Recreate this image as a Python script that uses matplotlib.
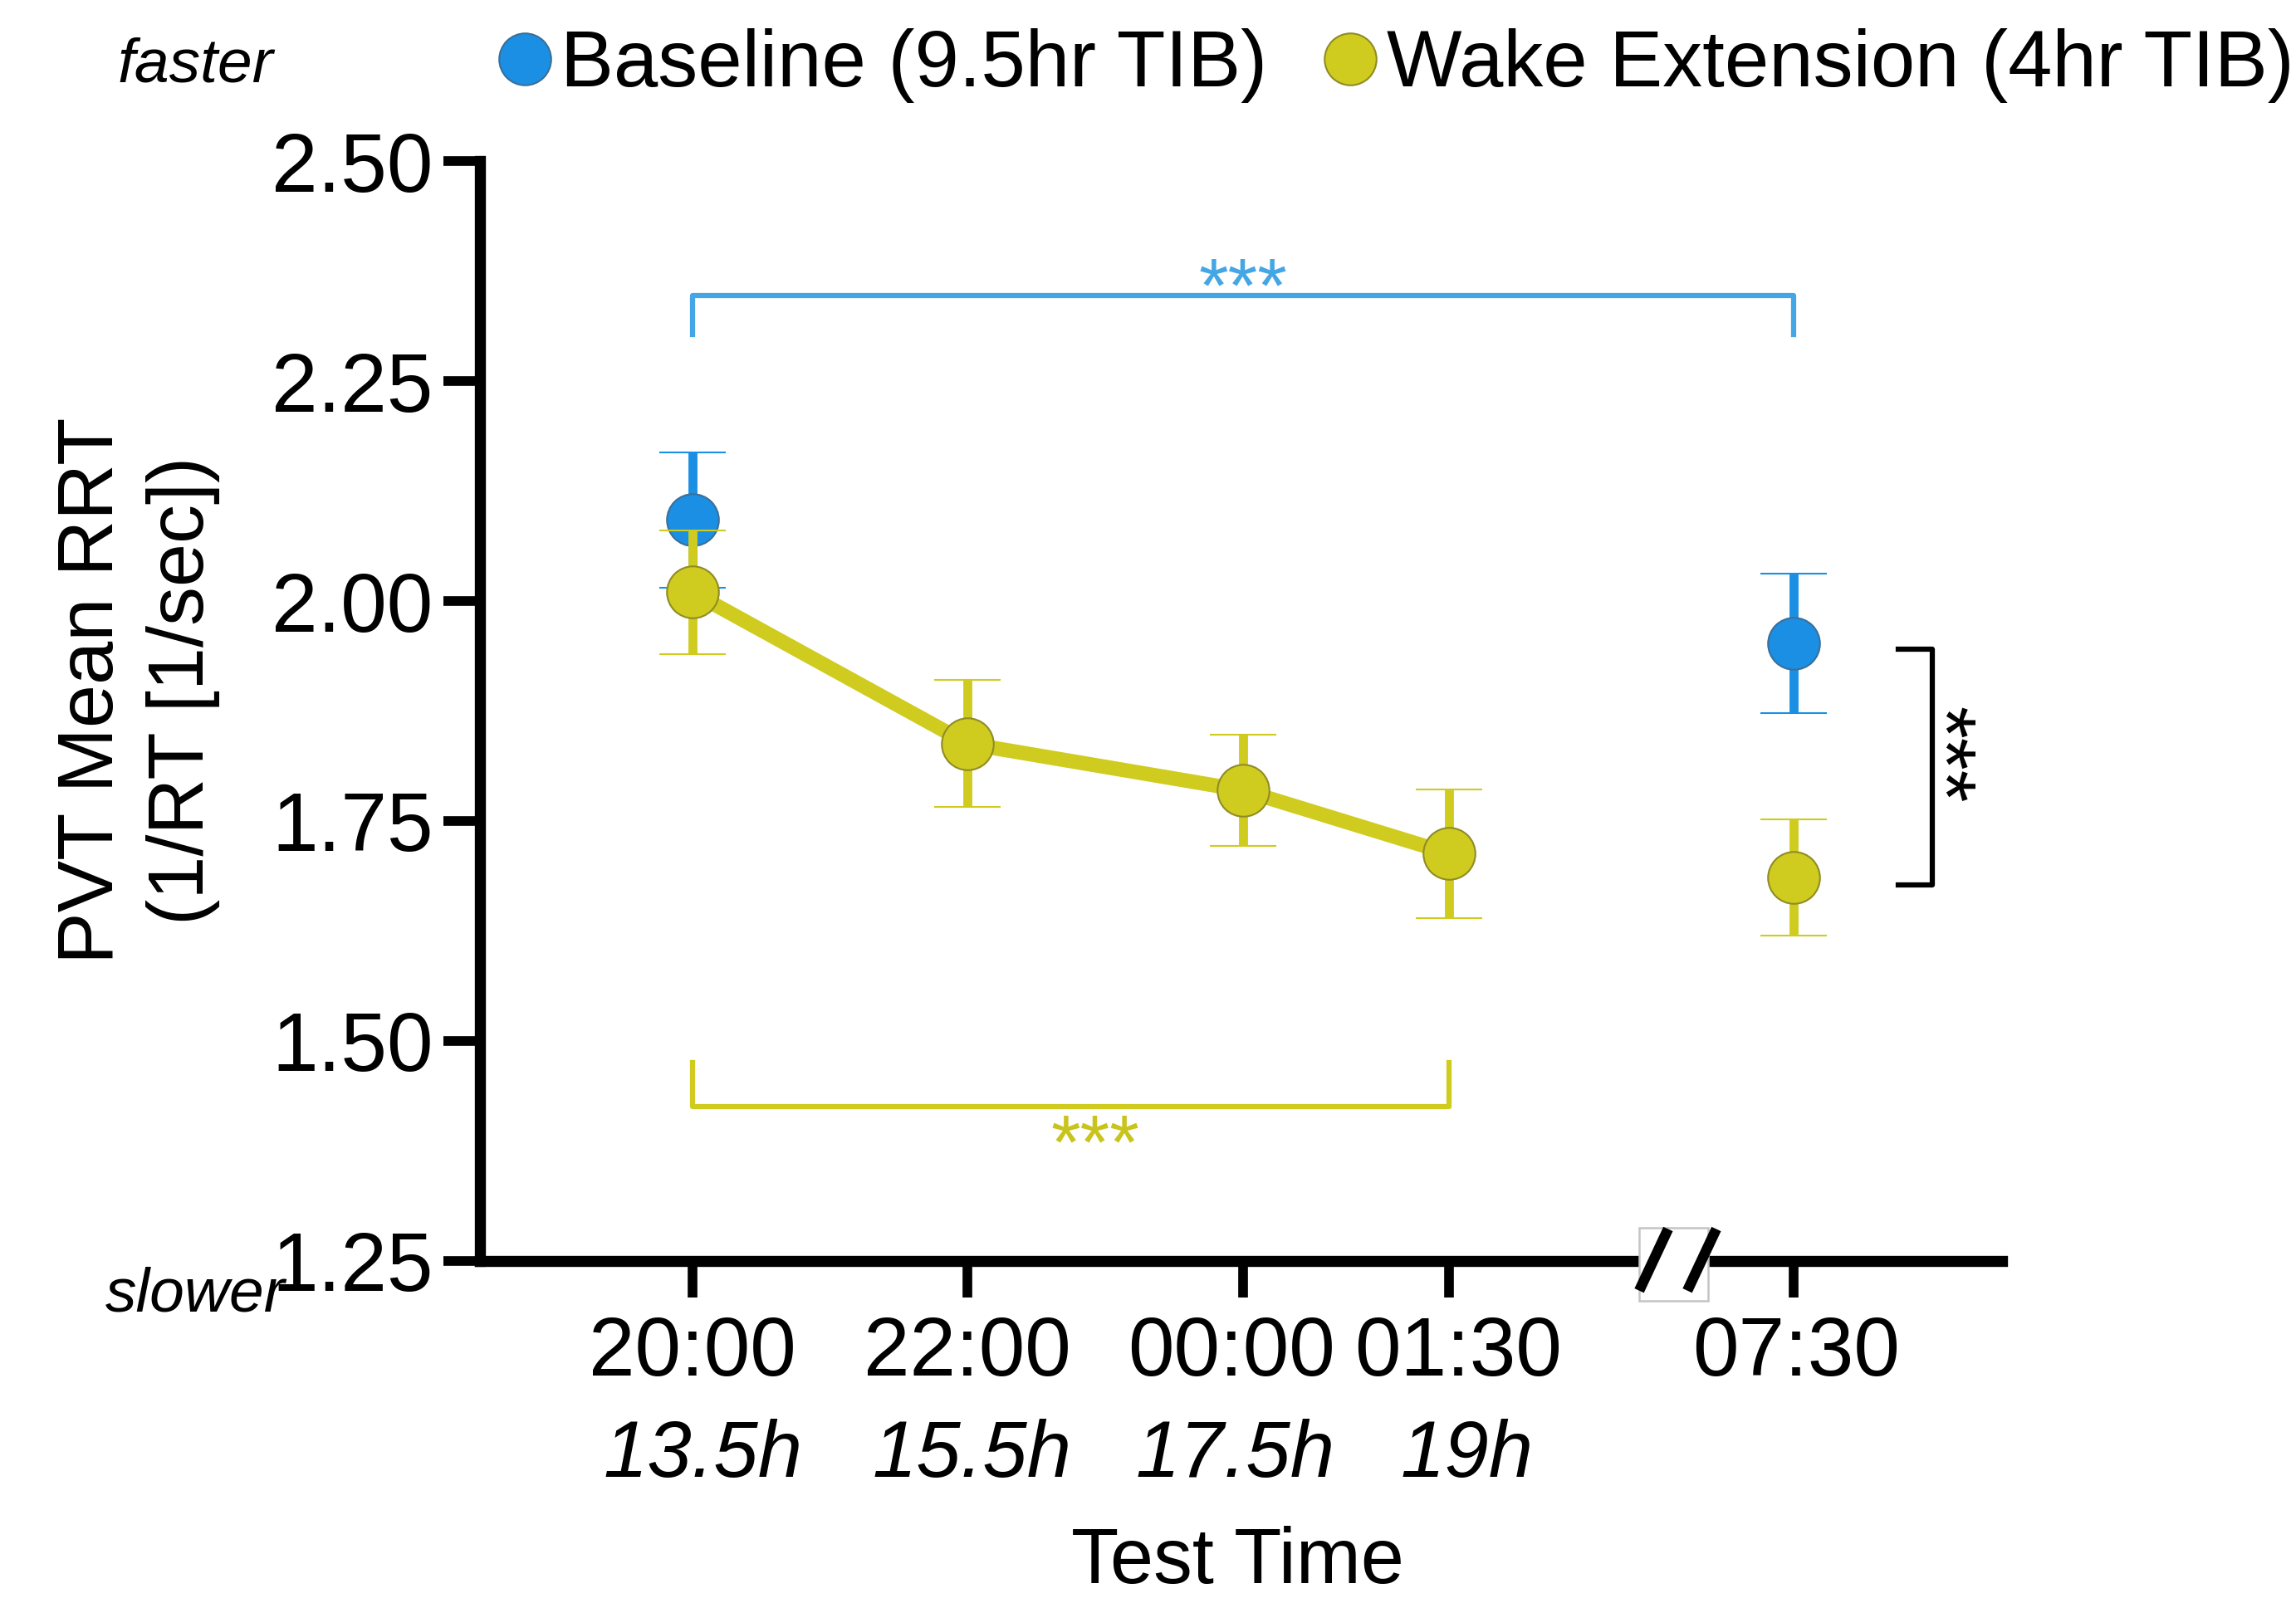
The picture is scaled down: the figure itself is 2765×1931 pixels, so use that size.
import numpy as np
import matplotlib
matplotlib.use('Agg')
from matplotlib import pyplot as plt
from matplotlib.lines import Line2D
import matplotlib.transforms as mtransforms

plt.rcParams['font.family'] = ['Liberation Sans', 'DejaVu Sans']

# test times (hours after 20:00, 07:30 drawn after an axis break)
times = ['20:00', '22:00', '00:00', '01:30', '07:30']
hours_awake = ['13.5h', '15.5h', '17.5h', '19h', '']
x_pos = [0, 2, 4, 5.5, 8]

# Baseline (9.5hr TIB) measured only at 20:00 and 07:30
base_x = [0, 8]
base_mean = [2.092, 1.952]
base_err = [0.077, 0.079]

# Wake Extension (4hr TIB)
wake_mean = [2.010, 1.838, 1.785, 1.713, 1.686]
wake_err = [0.070, 0.072, 0.063, 0.073, 0.066]

blue = '#1a8fe3'
yellow = '#cfcb1f'
blue_light = '#45a6e6'
yellow_star = '#c9c41b'

# small sideways nudges of the tick labels (points)
tick_shift = [0, 0, -3.4, 2.5, 0.8]
hour_shift = [3, 1.3, -2.1, 5.1, 0]

fig = plt.figure(figsize=(2765/300, 1931/300), dpi=300)
ax = fig.add_axes([0.209, 0.2134, 0.663, 0.6861])

ax.errorbar(base_x, base_mean, yerr=base_err, fmt='o', color=blue, ms=15,
            mec='#3a6f9a', mew=0.5, elinewidth=2.6, capsize=9.5, capthick=3.6,
            zorder=3)
# connected part (evening), then lone morning point
ax.plot(x_pos[:4], wake_mean[:4], color=yellow, lw=4.2, zorder=4)
ax.errorbar(x_pos, wake_mean, yerr=wake_err, fmt='o', color=yellow, ms=15,
            mec='#8f8c25', mew=0.5, elinewidth=2.6, capsize=9.5, capthick=3.6,
            zorder=5)

ax.set_xlim(-1.544, 9.517)
ax.set_ylim(1.25, 2.50)
yt = np.arange(1.25, 2.51, 0.25)
ax.set_yticks(yt)
ax.set_yticklabels([f'{v:.2f}' for v in yt], fontsize=24)
ax.set_xticks(x_pos)
ax.set_xticklabels(times, fontsize=24)
ax.tick_params(axis='both', width=2.8, length=10.5, color='black')
ax.tick_params(axis='y', pad=3)
ax.tick_params(axis='x', pad=5)
for s in ['top', 'right']:
    ax.spines[s].set_visible(False)
for s in ['left', 'bottom']:
    ax.spines[s].set_linewidth(3.2)

for lab, dx in zip(ax.get_xticklabels(), tick_shift):
    lab.set_transform(lab.get_transform() +
                      mtransforms.ScaledTranslation(dx / 72, 0, fig.dpi_scale_trans))

# italic hours-awake labels under the clock times
for xp, h, dx in zip(x_pos, hours_awake, hour_shift):
    if h:
        ax.annotate(h, xy=(xp, 0), xycoords=('data', 'axes fraction'),
                    xytext=(dx, -56.5), textcoords='offset points',
                    ha='center', va='center', fontsize=23, style='italic')

# axis break on x
trans = mtransforms.blended_transform_factory(ax.transData, ax.transAxes)
bx = 7.13
ax.add_patch(plt.Rectangle((bx - 0.25, -0.036), 0.5, 0.066, transform=trans,
                           facecolor='white', edgecolor='#c4c4c4', lw=0.6,
                           clip_on=False, zorder=6))
for dx in [-0.145, 0.205]:
    ax.plot([bx + dx - 0.105, bx + dx + 0.105], [-0.027, 0.029], transform=trans,
            color='black', lw=3.0, solid_capstyle='butt', clip_on=False, zorder=7)

# significance brackets
ax.plot([0, 0, 8, 8], [2.303, 2.347, 2.347, 2.303], color=blue_light, lw=1.5, zorder=2)
ax.text(4.0, 2.352, '***', color=blue_light, fontsize=22, ha='center', va='center')

ax.plot([0, 0, 5.5, 5.5], [1.475, 1.425, 1.425, 1.475], color=yellow, lw=1.5, zorder=2)
ax.text(2.93, 1.418, '***', color=yellow_star, fontsize=22, ha='center', va='top')

ax.plot([8.76, 9.01, 9.01, 8.76], [1.945, 1.945, 1.677, 1.677], color='black',
        lw=1.5, clip_on=False, zorder=2)
ax.text(9.05, 1.825, '***', color='black', fontsize=24, ha='center', va='center',
        rotation=-90, clip_on=False)

fig.text(0.06, 0.569, 'PVT Mean RRT\n(1/RT [1/sec])', rotation=90, ha='center',
         va='center', fontsize=22.5, linespacing=1.3, multialignment='center')
fig.text(0.539, 0.025, 'Test Time', ha='center', va='center', fontsize=22.5)
fig.text(0.085, 0.959, 'faster', ha='center', va='center', fontsize=18, style='italic')
fig.text(0.085, 0.192, 'slower', ha='center', va='center', fontsize=18, style='italic')

handles = [Line2D([], [], ls='none', marker='o', ms=15, color=blue, mec='#3a6f9a', mew=0.5),
           Line2D([], [], ls='none', marker='o', ms=15, color=yellow, mec='#8f8c25', mew=0.5)]
labels = ['Baseline (9.5hr TIB)', 'Wake Extension (4hr TIB)']
fig.legend(handles, labels, loc='center left', bbox_to_anchor=(0.218, 0.959),
           ncol=2, frameon=False, fontsize=23, handlelength=0.6,
           handletextpad=0.15, columnspacing=0.75, borderpad=0, borderaxespad=0)

fig.savefig('out.png', dpi=300)
